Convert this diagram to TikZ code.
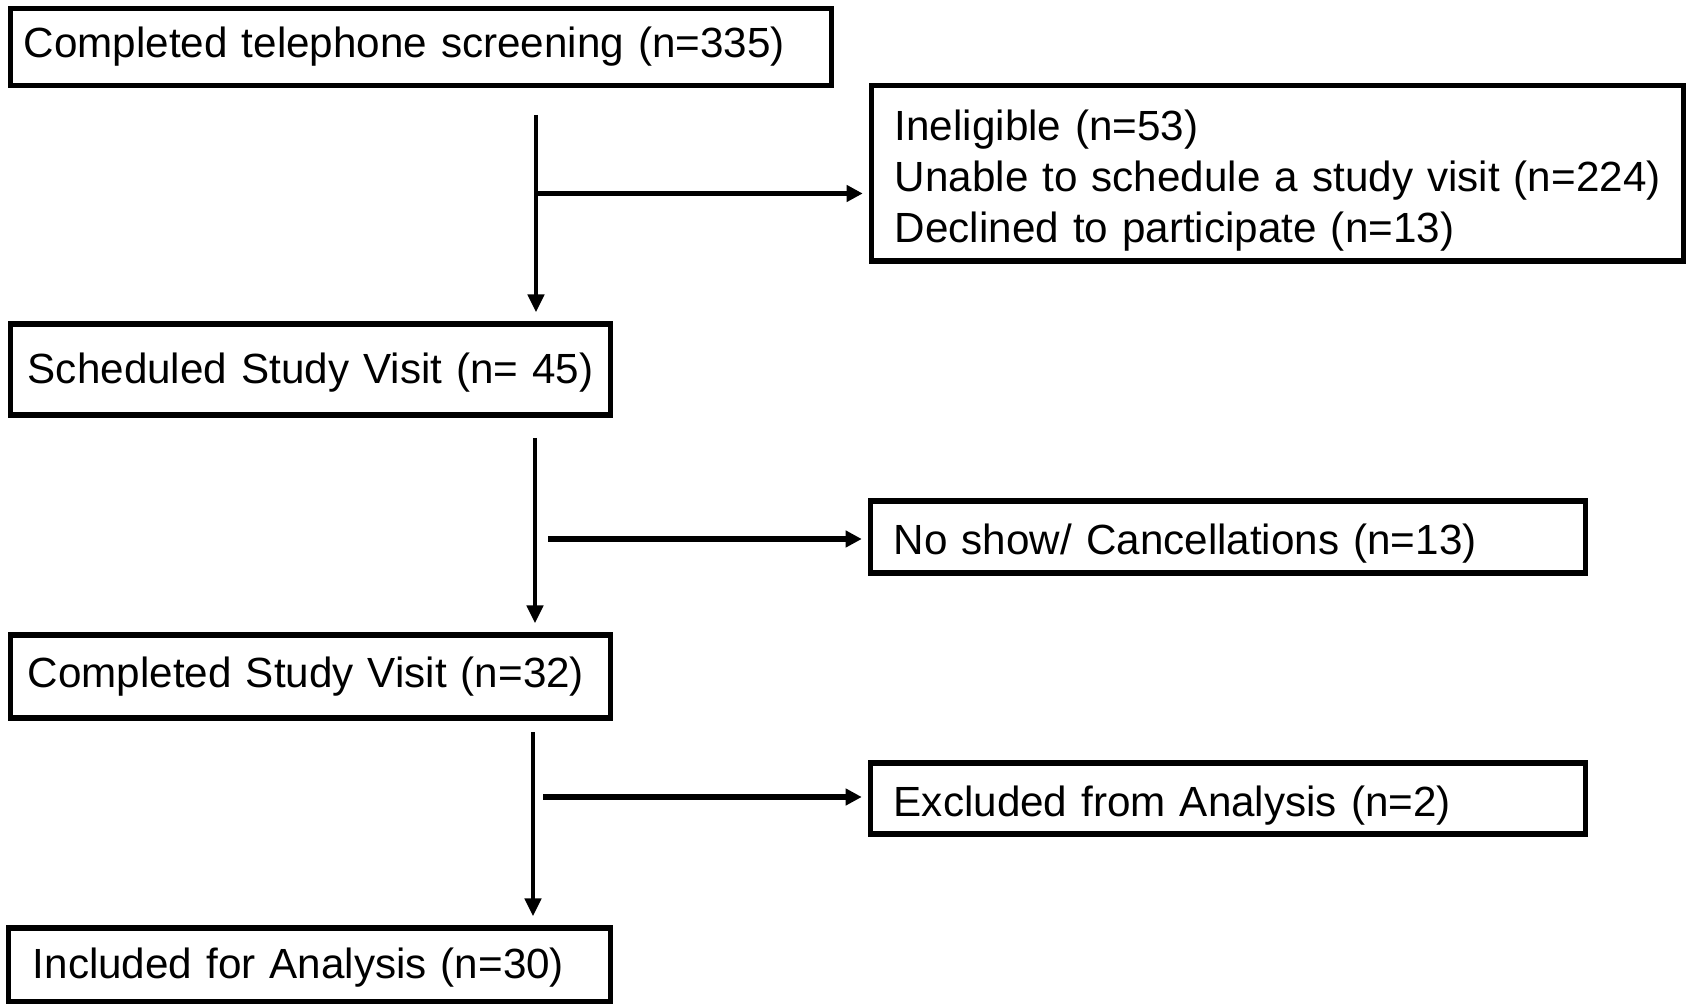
\documentclass[tikz,border=0pt]{standalone}
\usepackage{fontspec}
\setmainfont{Liberation Sans}
\usetikzlibrary{arrows.meta, positioning, calc}

\newcommand{\sidestrut}{\rule{0pt}{12.6pt}}
\newcommand{\mainstrut}{\rule{0pt}{10.4pt}}

\tikzset{
  stage/.style={draw, line width=1.45pt, align=left, inner xsep=0pt, inner ysep=0pt,
    font=\fontsize{12pt}{14.5pt}\selectfont},
  flow/.style={line width=1.25pt, -{Triangle[length=1.8mm,width=1.6mm]}, shorten >=0.9mm},
  branch/.style={line width=1.6pt, -{Triangle[length=1.6mm,width=1.6mm]}, shorten >=0.65mm}
}

\begin{document}
\begin{tikzpicture}[x=0.01cm, y=-0.01cm]
  \useasboundingbox (0,0) rectangle (1686,1004);
  % Main column
  \node[stage, text width=8.2cm, minimum height=0.77cm] (screen) at (421,47) {\hspace*{0.13cm}Completed telephone screening (n=335)};
  \node[stage, text width=5.99cm, minimum height=0.91cm] (sched) at (310.5,369.5) {\mainstrut\hspace*{0.17cm}Scheduled Study Visit (n= 45)};
  \node[stage, text width=5.99cm, minimum height=0.83cm] (visit) at (310.5,676.5) {\hspace*{0.17cm}Completed Study Visit (n=32)};
  \node[stage, text width=6.01cm, minimum height=0.74cm] (incl) at (309.5,965) {\mainstrut\hspace*{0.24cm}Included for Analysis (n=30)};
  % Side boxes
  \node[stage, text width=8.11cm, minimum height=1.75cm] (inelig) at (1277.5,173.5) {\sidestrut\hspace*{0.23cm}Ineligible (n=53)\\\hspace*{0.23cm}Unable to schedule a study visit (n=224)\\\hspace*{0.23cm}Declined to participate (n=13)};
  \node[stage, text width=7.14cm, minimum height=0.72cm] (noshow) at (1228,537) {\sidestrut\hspace*{0.23cm}No show/ Cancellations (n=13)};
  \node[stage, text width=7.14cm, minimum height=0.71cm] (excl) at (1228,798.5) {\sidestrut\hspace*{0.23cm}Excluded from Analysis (n=2)};
  % Arrows
  \coordinate (a1) at (536,115);
  \coordinate (b1) at (536,193.5);
  \coordinate (a2) at (535,438);
  \coordinate (b2) at (548,539);
  \coordinate (a3) at (533,732);
  \coordinate (b3) at (543,797);
  \draw[flow] (a1) -- (a1 |- sched.north);
  \draw[branch] (b1) -- (b1 -| inelig.west);
  \draw[flow] (a2) -- (a2 |- visit.north);
  \draw[branch] (b2) -- (b2 -| noshow.west);
  \draw[flow] (a3) -- (a3 |- incl.north);
  \draw[branch] (b3) -- (b3 -| excl.west);
\end{tikzpicture}
\end{document}
